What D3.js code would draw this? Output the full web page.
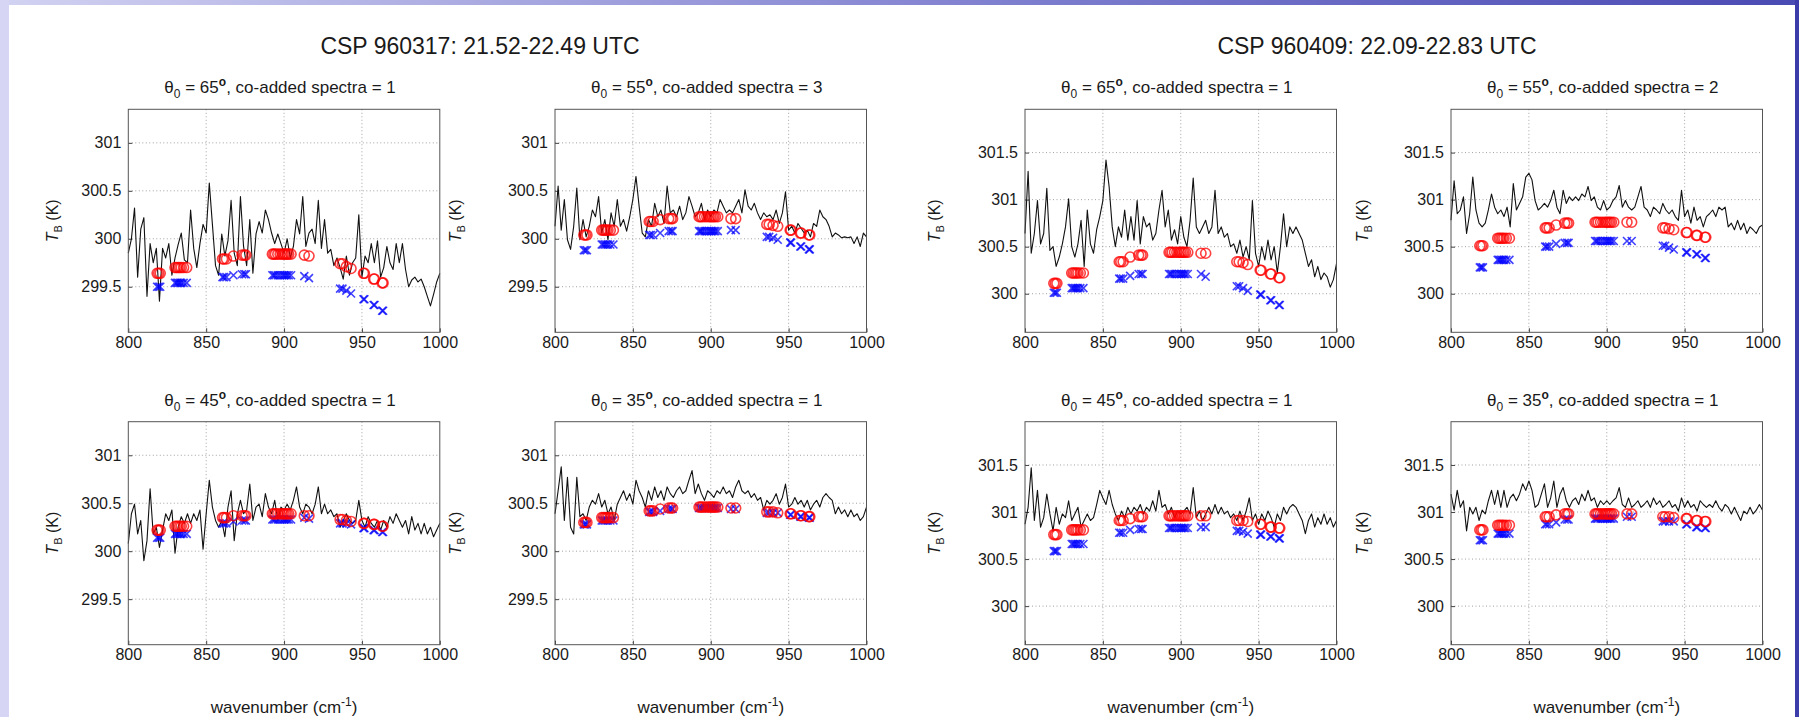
<!DOCTYPE html>
<html>
<head>
<meta charset="utf-8">
<script src="https://cdnjs.cloudflare.com/ajax/libs/d3/7.8.5/d3.min.js"></script>
<style>
  body { margin: 0; background: #fff; }
  svg text { font-family: "Liberation Sans", Arial, sans-serif; fill: #1a1a1a; }
</style>
</head>
<body>
<div id="chart"></div>
<script>
// ---- data -------------------------------------------------------------
const xTicks = [800, 850, 900, 950, 1000];
const yTicks0317 = [299.5, 300, 300.5, 301];
const yTicks0409 = [300, 300.5, 301, 301.5];
const yDomain0317 = [299.025, 301.35];
const yDomain0409 = [299.59, 301.96];

// spectrum sampled every 2 cm-1 from 800 to 1000
const wavenumbers = d3.range(800, 1001, 2);

const tb0317_65 = [
  299.85,300.00,300.32,299.60,300.10,300.22,299.40,299.95,299.75,299.90,
  299.35,299.90,299.80,299.95,299.62,299.80,299.94,300.06,299.78,299.75,
  300.30,299.90,299.70,299.95,300.15,300.06,300.58,300.15,299.72,299.62,
  300.05,299.82,299.98,300.40,299.85,299.72,300.44,299.92,299.72,300.20,
  299.64,300.05,300.18,300.06,300.30,300.20,300.06,299.95,300.05,299.95,
  299.85,300.00,299.80,299.92,300.20,300.05,300.44,299.92,300.06,300.10,
  299.95,300.40,299.90,300.20,299.85,299.89,299.72,299.80,299.70,299.58,
  299.82,299.62,299.75,299.80,300.25,299.60,299.82,299.75,299.95,299.75,
  299.98,299.60,299.70,299.92,299.75,299.68,299.95,299.75,299.95,299.68,
  299.50,299.57,299.60,299.55,299.58,299.50,299.40,299.30,299.42,299.55,
  299.64];
const tb0317_55 = [
  300.13,300.55,300.09,300.41,299.99,299.89,300.13,300.53,299.99,300.20,
  300.02,300.13,300.30,300.23,300.44,300.06,300.20,299.99,300.27,300.13,
  300.41,300.13,300.20,300.08,300.23,300.41,300.65,300.34,300.06,300.02,
  300.20,300.13,300.37,300.23,300.30,300.16,300.55,300.27,300.30,300.23,
  300.34,300.20,300.27,300.44,300.34,300.23,300.27,300.37,300.20,300.30,
  300.23,300.30,300.27,300.41,300.34,300.27,300.30,300.27,300.34,300.41,
  300.27,300.51,300.34,300.30,300.37,300.27,300.20,300.27,300.23,300.25,
  300.20,300.30,300.16,300.27,300.49,300.09,300.13,300.06,300.16,300.11,
  300.06,300.09,300.02,300.16,300.13,300.30,300.23,300.20,300.13,300.02,
  300.06,300.04,300.01,300.02,300.01,300.02,299.95,300.02,299.92,300.06,
  300.02];
const tb0317_45 = [
  300.08,300.39,300.49,300.18,300.32,299.90,300.11,300.65,300.18,300.25,
  300.04,300.22,300.39,300.32,300.43,299.98,300.25,300.36,300.29,300.39,
  300.29,300.39,300.32,300.43,300.02,300.39,300.74,300.46,300.32,300.25,
  300.32,300.15,300.46,300.63,300.11,300.39,300.53,300.39,300.43,300.70,
  300.32,300.46,300.49,300.36,300.60,300.46,300.39,300.53,300.32,300.46,
  300.43,300.49,300.43,300.53,300.67,300.46,300.39,300.49,300.46,300.39,
  300.49,300.67,300.39,300.49,300.39,300.43,300.36,300.39,300.25,300.32,
  300.39,300.32,300.29,300.32,300.53,300.32,300.25,300.36,300.29,300.25,
  300.32,300.22,300.32,300.25,300.36,300.29,300.39,300.32,300.25,300.32,
  300.18,300.36,300.22,300.29,300.18,300.29,300.18,300.25,300.15,300.22,
  300.29];
const tb0317_35 = [
  300.39,300.63,300.88,300.32,300.77,300.25,300.18,300.77,300.36,300.39,
  300.32,300.46,300.53,300.49,300.60,300.46,300.53,300.39,300.46,300.32,
  300.49,300.56,300.63,300.53,300.60,300.49,300.74,300.63,300.56,300.46,
  300.63,300.53,300.67,300.56,300.63,300.53,300.67,300.60,300.56,300.63,
  300.67,300.60,300.63,300.74,300.84,300.60,300.70,300.60,300.53,300.63,
  300.60,300.56,300.63,300.60,300.67,300.60,300.63,300.56,300.67,300.74,
  300.63,300.60,300.63,300.56,300.60,300.53,300.56,300.43,300.53,300.49,
  300.53,300.60,300.49,300.56,300.70,300.46,300.49,300.56,300.49,300.53,
  300.46,300.53,300.43,300.49,300.53,300.46,300.56,300.60,300.56,300.53,
  300.39,300.46,300.39,300.43,300.36,300.43,300.36,300.39,300.32,300.36,
  300.46];
const tb0409_65 = [
  300.64,301.30,300.43,300.64,300.99,300.53,300.64,301.12,300.46,300.50,
  300.29,300.39,300.53,300.71,301.01,300.50,300.39,300.53,300.78,300.29,
  300.89,300.53,300.43,300.68,300.82,300.99,301.42,301.14,300.71,300.50,
  300.71,300.60,300.89,300.57,300.82,300.57,300.99,300.53,300.82,300.71,
  300.75,300.57,300.64,300.89,301.10,300.71,300.89,300.57,300.68,300.53,
  300.82,300.60,300.50,300.78,301.23,300.71,300.64,300.71,300.78,300.64,
  300.71,301.10,300.64,300.71,300.60,300.64,300.50,300.53,300.43,300.57,
  300.39,300.50,300.36,300.99,300.43,300.29,300.50,300.36,300.57,300.36,
  300.50,300.22,300.50,300.85,300.50,300.71,300.64,300.71,300.64,300.57,
  300.43,300.29,300.36,300.18,300.29,300.15,300.22,300.18,300.07,300.15,
  300.32];
const tb0409_55 = [
  300.78,301.20,300.85,300.89,301.03,300.64,300.85,301.24,300.89,300.75,
  300.71,300.75,300.89,301.06,300.92,300.85,300.89,300.82,300.92,300.71,
  301.17,300.89,300.96,301.03,301.24,301.28,301.21,300.99,300.89,300.92,
  300.96,300.92,300.99,301.10,300.92,300.85,301.10,300.96,301.03,300.99,
  301.03,300.99,301.06,301.03,301.14,300.99,301.03,300.92,300.89,300.99,
  300.89,300.92,300.99,301.03,301.15,300.92,300.99,300.92,300.89,300.92,
  301.03,301.14,300.92,300.89,300.82,300.92,300.89,300.85,300.96,300.89,
  300.85,300.89,300.82,300.78,301.10,300.82,300.89,300.75,300.92,300.78,
  300.82,300.71,300.82,300.85,300.89,300.82,300.92,300.89,300.92,300.71,
  300.75,300.68,300.78,300.68,300.75,300.64,300.71,300.68,300.64,300.71,
  300.73];
const tb0409_45 = [
  300.87,301.05,301.47,300.91,301.23,300.84,300.94,301.19,300.98,300.80,
  301.05,300.87,300.98,300.94,301.12,300.91,300.98,301.05,300.84,300.91,
  300.98,300.91,300.94,301.08,301.23,301.15,301.08,301.23,301.08,300.98,
  300.91,301.01,300.94,301.05,300.98,301.05,301.01,301.08,300.98,301.05,
  301.01,301.12,301.01,301.23,301.05,301.08,300.98,301.05,300.94,301.01,
  300.98,301.01,301.05,300.98,301.26,300.94,301.01,300.91,300.98,301.05,
  300.98,301.08,300.98,301.05,300.98,301.01,300.94,300.98,300.91,301.01,
  300.91,301.01,301.15,300.91,300.98,300.87,300.98,300.91,301.01,300.94,
  300.84,300.98,300.91,301.05,300.98,301.05,301.08,301.05,300.98,300.91,
  300.77,300.91,300.98,300.84,300.94,300.87,300.98,300.87,300.94,300.84,
  300.91];
const tb0409_35 = [
  301.19,301.02,301.23,301.05,301.12,300.80,301.05,300.98,301.05,300.91,
  301.02,300.98,301.12,301.23,301.08,301.23,301.05,301.23,301.05,301.15,
  301.19,301.12,301.19,301.30,301.23,301.33,301.23,301.05,301.08,301.19,
  301.30,301.05,301.15,301.33,301.05,301.19,301.26,301.12,301.05,301.12,
  301.15,301.08,301.19,301.12,301.23,301.12,301.15,301.05,301.12,301.08,
  301.12,301.08,301.12,301.15,301.26,301.08,301.05,301.15,301.05,301.08,
  301.12,301.05,301.08,301.12,301.05,301.15,301.08,301.12,301.05,301.08,
  301.12,301.05,301.08,301.01,301.15,301.05,301.12,301.05,301.08,301.01,
  301.12,301.08,301.05,301.08,301.05,301.12,301.05,301.01,301.08,301.05,
  300.98,301.05,300.98,300.91,301.01,300.98,301.05,300.98,301.02,301.08,
  301.02];

// microwindows (cm-1), one temperature per window group
const windowGroups = [
  [818.5, 819.5, 820.5],
  [830, 831, 832, 833, 834, 835.5, 837.5],
  [860.5, 861.5, 863],
  [867.5],
  [873, 874.5, 875.5],
  [892.5, 893.5, 894.5, 896, 897.5, 899, 900, 901, 902, 903, 904.5],
  [913],
  [916],
  [936, 937.5],
  [940],
  [943],
  [951, 951.6],
  [957.5, 958.1],
  [963, 963.6]
];

// red circles
const circ0317_65 = [299.64,299.70,299.79,299.82,299.83,299.84,299.83,299.82,299.74,299.71,299.69,299.64,299.58,299.54];
const circ0317_55 = [300.04,300.09,300.18,300.20,300.21,300.23,300.21,300.21,300.15,300.14,300.13,300.09,300.06,300.04];
const circ0317_45 = [300.22,300.26,300.35,300.37,300.37,300.39,300.37,300.37,300.33,300.32,300.31,300.29,300.28,300.26];
const circ0317_35 = [300.30,300.35,300.42,300.44,300.45,300.46,300.45,300.45,300.41,300.41,300.40,300.39,300.37,300.36];
const circ0409_65 = [300.11,300.22,300.34,300.39,300.41,300.44,300.43,300.43,300.34,300.33,300.31,300.25,300.21,300.17];
const circ0409_55 = [300.51,300.59,300.70,300.73,300.75,300.76,300.76,300.76,300.70,300.69,300.68,300.65,300.62,300.60];
const circ0409_45 = [300.76,300.81,300.91,300.93,300.95,300.96,300.96,300.96,300.91,300.91,300.90,300.87,300.84,300.83];
const circ0409_35 = [300.81,300.86,300.95,300.97,300.98,300.98,300.98,300.98,300.95,300.95,300.94,300.93,300.91,300.90];

// blue crosses
const cross0317_65 = [299.50,299.54,299.60,299.62,299.63,299.62,299.61,299.59,299.48,299.46,299.43,299.37,299.31,299.25];
const cross0317_55 = [299.88,299.94,300.04,300.06,300.08,300.08,300.09,300.09,300.02,300.01,299.99,299.96,299.92,299.89];
const cross0317_45 = [300.14,300.18,300.29,300.31,300.32,300.33,300.35,300.34,300.29,300.29,300.28,300.24,300.22,300.20];
const cross0317_35 = [300.28,300.32,300.41,300.42,300.44,300.45,300.44,300.44,300.40,300.40,300.40,300.38,300.36,300.35];
const cross0409_65 = [300.01,300.06,300.16,300.19,300.21,300.21,300.21,300.18,300.08,300.06,300.03,299.99,299.93,299.88];
const cross0409_55 = [300.28,300.36,300.50,300.53,300.54,300.56,300.56,300.56,300.51,300.49,300.47,300.44,300.42,300.38];
const cross0409_45 = [300.585,300.66,300.78,300.81,300.82,300.83,300.84,300.84,300.80,300.79,300.77,300.76,300.74,300.72];
const cross0409_35 = [300.70,300.77,300.87,300.89,300.92,300.93,300.95,300.95,300.90,300.90,300.90,300.87,300.84,300.83];

const caseTitles = ["CSP 960317: 21.52-22.49 UTC", "CSP 960409: 22.09-22.83 UTC"];

// ---- layout -----------------------------------------------------------
const W = 1799, H = 717;
const colLeft = [128.3, 555, 1025, 1451];
const ylabelX = [58, 461, 940, 1368];
const rowTop = [109.3, 421.7];
const plotW = 311.5, plotH = 223;
const titleX = [480, 1377];

const panels = [
  {col: 0, row: 0, day: 0, angle: 65, coadd: 1, tb: tb0317_65, circ: circ0317_65, cross: cross0317_65},
  {col: 1, row: 0, day: 0, angle: 55, coadd: 3, tb: tb0317_55, circ: circ0317_55, cross: cross0317_55},
  {col: 0, row: 1, day: 0, angle: 45, coadd: 1, tb: tb0317_45, circ: circ0317_45, cross: cross0317_45},
  {col: 1, row: 1, day: 0, angle: 35, coadd: 1, tb: tb0317_35, circ: circ0317_35, cross: cross0317_35},
  {col: 2, row: 0, day: 1, angle: 65, coadd: 1, tb: tb0409_65, circ: circ0409_65, cross: cross0409_65},
  {col: 3, row: 0, day: 1, angle: 55, coadd: 2, tb: tb0409_55, circ: circ0409_55, cross: cross0409_55},
  {col: 2, row: 1, day: 1, angle: 45, coadd: 1, tb: tb0409_45, circ: circ0409_45, cross: cross0409_45},
  {col: 3, row: 1, day: 1, angle: 35, coadd: 1, tb: tb0409_35, circ: circ0409_35, cross: cross0409_35}
];

const svg = d3.select("#chart").append("svg")
    .attr("width", W)
    .attr("height", H);

/* slide background: white page with a purple frame */
const defs = svg.append("defs");
const topGrad = defs.append("linearGradient").attr("id", "topGrad");
topGrad.append("stop").attr("offset", "0%").attr("stop-color", "#d2d2f2");
topGrad.append("stop").attr("offset", "55%").attr("stop-color", "#8080d0");
topGrad.append("stop").attr("offset", "100%").attr("stop-color", "#4a4ab4");

svg.append("rect").attr("width", W).attr("height", H).attr("fill", "#fff");
svg.append("rect").attr("width", W).attr("height", 5).attr("fill", "url(#topGrad)");
svg.append("rect").attr("width", 9).attr("height", H).attr("fill", "#d6d6f4");
svg.append("rect").attr("x", W - 4).attr("width", 4).attr("height", H).attr("fill", "#3c3caa");

/* case titles */
svg.selectAll("text.casetitle")
  .data(caseTitles)
  .enter().append("text")
    .attr("class", "casetitle")
    .attr("x", function(d, i) { return titleX[i]; })
    .attr("y", 54)
    .attr("text-anchor", "middle")
    .style("font-size", "23px")
    .text(function(d) { return d; });

const xScale = d3.scaleLinear().domain([800, 1000]).range([0, plotW]);

panels.forEach(function(p) {
  const left = colLeft[p.col], top = rowTop[p.row];
  const y = d3.scaleLinear()
      .domain(p.day === 0 ? yDomain0317 : yDomain0409)
      .range([plotH, 0]);
  const yTicks = p.day === 0 ? yTicks0317 : yTicks0409;
  const g = svg.append("g").attr("transform", "translate(" + left + "," + top + ")");

  // grid
  g.append("g").selectAll("line")
    .data(xTicks.slice(1, -1)).enter().append("line")
      .attr("x1", function(d) { return xScale(d); })
      .attr("x2", function(d) { return xScale(d); })
      .attr("y1", 0).attr("y2", plotH)
      .attr("stroke", "#8a8a8a").attr("stroke-width", 0.8)
      .attr("stroke-dasharray", "1,2.5");
  g.append("g").selectAll("line")
    .data(yTicks).enter().append("line")
      .attr("x1", 0).attr("x2", plotW)
      .attr("y1", function(d) { return y(d); })
      .attr("y2", function(d) { return y(d); })
      .attr("stroke", "#8a8a8a").attr("stroke-width", 0.8)
      .attr("stroke-dasharray", "1,2.5");

  // axes
  const xAxis = g.append("g")
      .attr("transform", "translate(0," + plotH + ")")
      .call(d3.axisBottom(xScale).tickValues(xTicks).tickFormat(d3.format("d"))
            .tickSizeInner(-4).tickSizeOuter(0).tickPadding(4));
  const yAxis = g.append("g")
      .call(d3.axisLeft(y).tickValues(yTicks).tickSizeInner(-4).tickSizeOuter(0).tickPadding(7)
            .tickFormat(function(d) { return d % 1 === 0 ? d : d.toFixed(1); }));
  [xAxis, yAxis].forEach(function(a) {
    a.select(".domain").remove();
    a.selectAll(".tick line").attr("stroke", "#444");
    a.selectAll(".tick text")
      .style("font-size", "16px")
      .attr("fill", "#1a1a1a");
  });

  // spectrum
  const line = d3.line()
      .x(function(d, i) { return xScale(wavenumbers[i]); })
      .y(function(d) { return y(d); });
  g.append("path")
    .datum(p.tb)
    .attr("d", line)
    .attr("fill", "none")
    .attr("stroke", "#111")
    .attr("stroke-width", 1.1)
    .attr("stroke-linejoin", "round");

  // microwindow markers
  const circPts = [], crossPts = [];
  windowGroups.forEach(function(ws, k) {
    ws.forEach(function(w) {
      circPts.push({wn: w, t: p.circ[k]});
      crossPts.push({wn: w, t: p.cross[k]});
    });
  });

  g.append("g").selectAll("path")
    .data(crossPts).enter().append("path")
      .attr("d", function(d) {
        const cx = xScale(d.wn), cy = y(d.t), s = 4;
        return "M" + (cx - s) + "," + (cy - s) + "L" + (cx + s) + "," + (cy + s) +
               "M" + (cx - s) + "," + (cy + s) + "L" + (cx + s) + "," + (cy - s);
      })
      .attr("stroke", "#0000ff")
      .attr("stroke-opacity", 0.75)
      .attr("stroke-width", 1.6);

  g.append("g").selectAll("circle")
    .data(circPts).enter().append("circle")
      .attr("cx", function(d) { return xScale(d.wn); })
      .attr("cy", function(d) { return y(d.t); })
      .attr("r", 5)
      .attr("fill", "none")
      .attr("stroke", "#ff0000")
      .attr("stroke-opacity", 0.75)
      .attr("stroke-width", 1.6);

  // frame
  g.append("rect")
    .attr("width", plotW).attr("height", plotH)
    .attr("fill", "none").attr("stroke", "#555").attr("stroke-width", 1);

  // panel title
  const t = svg.append("text")
      .attr("x", left + plotW / 2 - 4)
      .attr("y", top - 16)
      .attr("text-anchor", "middle")
      .style("font-size", "17px");
  t.append("tspan").text("\u03b8");
  t.append("tspan").attr("dy", 5).style("font-size", "12px").text("0");
  t.append("tspan").attr("dy", -5).text(" = " + p.angle);
  t.append("tspan").attr("dy", -7).style("font-size", "12px").style("font-weight", "bold").text("o");
  t.append("tspan").attr("dy", 7).text(", co-added spectra = " + p.coadd);

  // y label
  const yl = svg.append("text")
      .attr("transform", "translate(" + ylabelX[p.col] + "," + (top + plotH / 2) + ") rotate(-90)")
      .attr("text-anchor", "middle")
      .style("font-size", "16px");
  yl.append("tspan").style("font-style", "italic").text("T");
  yl.append("tspan").attr("dy", 4).style("font-size", "11px").text("B");
  yl.append("tspan").attr("dy", -4).text(" (K)");

  // x label only under the bottom row
  if (p.row === 1) {
    const xl = svg.append("text")
        .attr("x", left + plotW / 2)
        .attr("y", 713)
        .attr("text-anchor", "middle")
        .style("font-size", "17px");
    xl.append("tspan").text("wavenumber (cm");
    xl.append("tspan").attr("dy", -7).style("font-size", "12px").text("-1");
    xl.append("tspan").attr("dy", 7).text(")");
  }
});
</script>
</body>
</html>
